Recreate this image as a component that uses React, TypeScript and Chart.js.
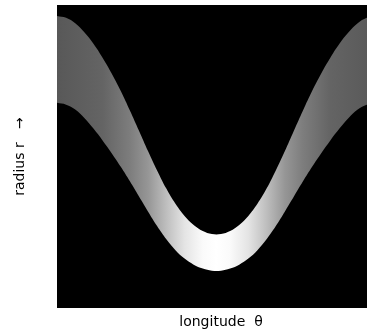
import { useEffect, useRef } from "react";
import { Chart, registerables } from "chart.js";

Chart.register(...registerables);

// longitude θ (degrees)
const longitude = [
  0, 10, 20, 30, 40, 50, 60, 70, 80, 90, 100, 110, 120, 130, 140, 150, 160, 170,
  180, 190, 200, 210, 220, 230, 240, 250, 260, 270, 280, 290, 300, 310, 320, 330,
  340, 350, 360,
];

// outer (upper) edge of the band, radius r
const rUpper = [
  96.4, 95.8, 94.0, 91.0, 87.2, 82.6, 77.4, 71.6, 65.2, 58.5, 51.7, 45.3, 39.4,
  34.4, 30.4, 27.4, 25.4, 24.4, 24.4, 25.4, 27.4, 30.4, 34.4, 39.4, 45.3, 51.7,
  58.5, 65.2, 71.6, 77.4, 82.6, 87.2, 91.0, 94.0, 95.8, 96.4, 96.0,
];

// inner (lower) edge of the band, radius r
const rLower = [
  67.7, 67.1, 65.5, 62.7, 59.2, 55.3, 51.1, 46.6, 41.8, 36.8, 31.8, 27.0, 22.7,
  19.1, 16.3, 14.3, 13.0, 12.3, 12.3, 13.0, 14.3, 16.3, 19.1, 22.7, 27.0, 31.8,
  36.8, 41.8, 46.6, 51.1, 55.3, 59.2, 62.7, 65.5, 67.1, 67.7, 67.4,
];

const X_TITLE = "longitude  θ";
const Y_TITLE = "radius r   →";

// brightness of the band along longitude (θ, grey level)
const shadeTheta = [0, 50, 80, 100, 120, 140, 160, 175, 190, 210, 230, 250, 270, 300, 350, 360];
const shadeGrey = [88, 100, 125, 150, 190, 228, 250, 255, 250, 228, 190, 150, 125, 100, 88, 88];

const blackPlot = {
  id: "blackPlot",
  beforeDatasetsDraw(chart: any) {
    const { ctx, chartArea } = chart;
    if (!chartArea) return;
    ctx.save();
    ctx.fillStyle = "#000000";
    ctx.fillRect(chartArea.left, chartArea.top, chartArea.right - chartArea.left, chartArea.bottom - chartArea.top);
    ctx.restore();
  },
};

export default function App() {
  const ref = useRef<HTMLCanvasElement | null>(null);

  useEffect(() => {
    if (!ref.current) return;
    const font = { family: "'DejaVu Sans', sans-serif", size: 14, lineHeight: 18 / 14 };
    const bandFill = (c: any) => {
      const chart = c.chart;
      const { chartArea, scales } = chart;
      if (!chartArea || !scales.x) return "rgb(128,128,128)";
      const w = chartArea.right - chartArea.left;
      const g = chart.ctx.createLinearGradient(chartArea.left, 0, chartArea.right, 0);
      shadeTheta.forEach((t, i) => {
        const p = (scales.x.getPixelForValue(t) - chartArea.left) / w;
        const v = shadeGrey[i];
        g.addColorStop(Math.min(1, Math.max(0, p)), `rgb(${v},${v},${v})`);
      });
      return g;
    };
    const chart = new Chart(ref.current, {
      type: "line",
      data: {
        datasets: [
          {
            label: "outer",
            data: longitude.map((t, i) => ({ x: t, y: rUpper[i] })),
            borderWidth: 0,
            borderColor: "rgba(0,0,0,0)",
            pointRadius: 0,
            tension: 0.4,
            fill: "+1",
            backgroundColor: bandFill,
          },
          {
            label: "inner",
            data: longitude.map((t, i) => ({ x: t, y: rLower[i] })),
            borderWidth: 0,
            borderColor: "rgba(0,0,0,0)",
            pointRadius: 0,
            tension: 0.4,
            fill: false,
          },
        ],
      },
      options: {
        animation: false,
        responsive: false,
        devicePixelRatio: 1,
        layout: { padding: { top: 5, left: 0, right: 0, bottom: 0 } },
        plugins: { legend: { display: false }, tooltip: { enabled: false } },
        scales: {
          x: {
            type: "linear",
            min: 0,
            max: 360,
            ticks: { display: false },
            grid: { display: false, drawTicks: false },
            border: { display: false },
            title: { display: true, text: X_TITLE, color: "#000", font, padding: { top: 5, bottom: 2 } },
          },
          y: {
            type: "linear",
            min: 0,
            max: 100,
            ticks: { display: false },
            grid: { display: false, drawTicks: false },
            border: { display: false },
            title: { display: true, text: Y_TITLE, color: "#000", font, padding: { top: 11, bottom: 28 } },
          },
        },
      },
      plugins: [blackPlot],
    } as any);
    return () => chart.destroy();
  }, []);

  return (
    <div style={{ position: "absolute", left: 0, top: 0, width: 367, height: 333, overflow: "hidden" }}>
      <canvas ref={ref} width={385} height={333} style={{ display: "block", width: 385, height: 333 }} />
    </div>
  );
}
